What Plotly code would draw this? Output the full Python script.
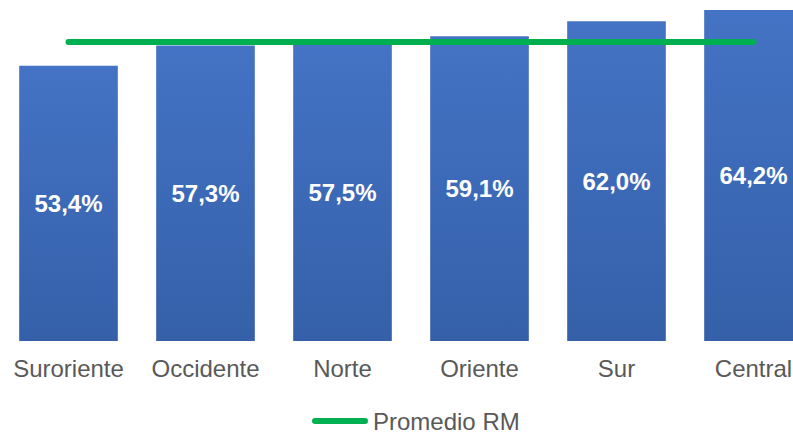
import plotly.graph_objects as go

categories = ["Suroriente", "Occidente", "Norte", "Oriente", "Sur", "Central"]
values = [53.4, 57.3, 57.5, 59.1, 62.0, 64.2]
promedio_rm = 58.0
promedio_label = "Promedio RM"

FONT = "Liberation Sans, Arial, sans-serif"
W, H = 793, 434
PLOT_BOTTOM = 341

fig = go.Figure()
fig.add_trace(go.Bar(
    x=categories, y=values,
    width=0.72,
    marker=dict(color="#3D69B7", line=dict(width=0)),
    texttemplate="%{y:.1f}%",
    textposition="inside",
    insidetextanchor="middle",
    textangle=0,
    textfont=dict(family=FONT, size=24, color="white", weight="bold"),
    showlegend=False,
    hoverinfo="skip",
))
fig.add_trace(go.Scatter(
    x=[categories[0], categories[-1]], y=[promedio_rm, promedio_rm],
    mode="lines",
    line=dict(color="#00B050", width=6),
    name=promedio_label,
    showlegend=False,
    hoverinfo="skip",
))

# manual legend (sample line + label)
leg_y = (PLOT_BOTTOM - 421) / PLOT_BOTTOM
fig.add_shape(type="line", xref="paper", yref="paper",
              x0=315 / W, x1=365 / W, y0=leg_y, y1=leg_y,
              line=dict(color="#00B050", width=6))
fig.add_annotation(xref="paper", yref="paper", x=371 / W, y=leg_y,
                   xanchor="left", yanchor="middle", showarrow=False,
                   text=promedio_label,
                   font=dict(family=FONT, size=24, color="#595959"))

fig.update_layout(
    width=W, height=H,
    margin=dict(l=0, r=0, t=0, b=H - PLOT_BOTTOM, autoexpand=False),
    paper_bgcolor="white", plot_bgcolor="white",
    separators=",.",
    xaxis=dict(
        range=[-0.5, 5.5 - 29 / 137],
        automargin=False,
        showgrid=False, showline=False, zeroline=False, ticks="",
        ticklabelstandoff=11,
        tickfont=dict(family=FONT, size=24, color="#595959"),
    ),
    yaxis=dict(range=[0, 66.14], visible=False, automargin=False),
    showlegend=False,
)

post = """
document.body.style.margin='0';
document.body.style.overflow='hidden';
var svg = document.querySelector('.main-svg');
var ns = 'http://www.w3.org/2000/svg';
var defs = svg.querySelector('defs') || svg.insertBefore(document.createElementNS(ns,'defs'), svg.firstChild);
var g = document.createElementNS(ns,'linearGradient');
g.setAttribute('id','barGrad'); g.setAttribute('x1','0'); g.setAttribute('y1','0');
g.setAttribute('x2','0'); g.setAttribute('y2','1');
[['0%','#4473C5'],['100%','#3560A9']].forEach(function(s){
  var st = document.createElementNS(ns,'stop');
  st.setAttribute('offset', s[0]); st.setAttribute('stop-color', s[1]); g.appendChild(st);
});
defs.appendChild(g);
document.querySelectorAll('.barlayer .point path').forEach(function(p){ p.style.fill='url(#barGrad)'; });
document.querySelectorAll('.scatterlayer path.js-line').forEach(function(p){ p.style.strokeLinecap='round'; });
document.querySelectorAll('.shapelayer path').forEach(function(p){ p.style.strokeLinecap='round'; });
"""

fig.write_html("out.html", config={"displayModeBar": False, "staticPlot": True}, post_script=post)
